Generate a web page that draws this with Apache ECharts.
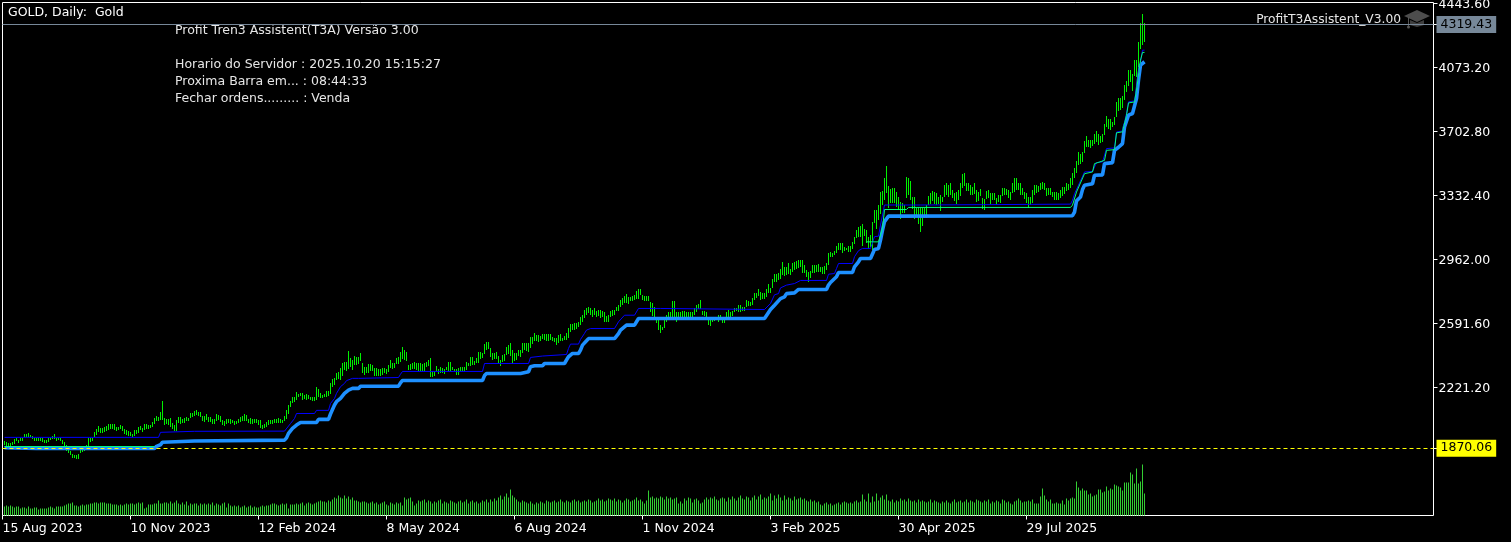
<!DOCTYPE html>
<html><head><meta charset="utf-8">
<style>html,body{margin:0;padding:0;background:#000}#c{width:1511px;height:542px}</style>
<script src="https://cdn.jsdelivr.net/npm/echarts@6/dist/echarts.min.js"></script>
</head><body><div id="c"></div>
<script>
const highs = [
1912,1906,1900,1900,1906,1923,1929,1919,1929,1931,1952,1952,1958,1946,1941,1929,1929,1929,1929,1929,
1917,1917,1929,1929,1941,1952,1929,1929,1929,1917,1906,1888,1860,1854,1836,1831,1831,1836,1860,1865,
1869,1888,1929,1929,1929,1966,1981,1998,1989,1985,1993,1998,2010,2010,2010,2010,1993,1993,2004,1998,
1981,1975,1970,1964,1952,1975,1975,1993,1998,1987,2010,2010,2004,2004,2022,2045,2056,2051,2080,2143,
2045,2039,2039,2045,2016,2004,2033,2051,2051,2039,2045,2051,2045,2074,2074,2085,2091,2080,
2077,2056,2058,2068,2048,2048,2042,2042,2068,2062,2056,2033,2027,2042,2037,2037,2033,2027,2027,2039,
2052,2056,2068,2062,2039,2046,2042,2039,2039,2033,2033,2004,2010,2019,2033,2033,2033,2039,2039,2046,
2042,2033,2056,2091,2120,2145,2164,2168,2197,2183,2187,2191,2178,2181,2178,2164,2164,2168,2226,2212,
2187,2178,2183,2201,2201,2245,2270,2274,2307,2311,2336,2361,2371,2367,2432,2390,2380,2403,2400,2400,
2419,2361,2338,2342,2357,2357,2351,2332,2332,2326,2326,2332,2332,2326,2351,2380,2365,2361,
2393,2399,2428,2457,2437,2428,2351,2355,2364,2368,2360,2360,2364,2355,2360,2368,2380,2389,2318,2318,
2345,2326,2337,2335,2331,2341,2368,2368,2337,2326,2329,2333,2341,2341,2341,2368,2364,2395,2395,2376,
2391,2426,2426,2418,2470,2482,2482,2447,2418,2418,2428,2403,2383,2409,2414,2457,2466,2476,2437,2422,
2418,2437,2437,2480,2480,2480,2476,2515,2515,2534,2524,2524,2519,2530,2530,2530,2530,2528,2511,2505,
2505,2524,2530,2505,2520,2534,2563,2588,2588,2592,2592,2602,2627,2640,2669,2679,2685,
2678,2672,2678,2665,2668,2672,2665,2659,2634,2639,2665,2668,2668,2684,2697,2726,2736,2749,2761,2746,
2742,2749,2755,2780,2788,2788,2755,2749,2749,2749,2717,2707,2684,2611,2614,2581,2572,2611,2639,2659,
2659,2721,2721,2659,2659,2659,2665,2665,2659,2659,2659,2659,2682,2697,2703,2726,2665,2665,2659,2630,
2620,2630,2630,2630,2639,2639,2620,2620,2659,2668,2659,2665,2678,2678,2697,2697,2684,2684,2726,2722,
2717,2736,2765,2765,2788,
2774,2765,2768,2793,2819,2799,2846,2880,2880,2884,2909,2948,2915,2915,2938,2909,2942,2948,2954,2958,
2958,2958,2929,2900,2890,2894,2929,2929,2929,2934,2919,2919,2923,2942,2996,3006,3000,3012,3039,3058,
3054,3054,3031,3025,3039,3039,3064,3093,3131,3151,3154,
3169,3140,3131,3092,3102,3179,3247,3247,3276,3353,3359,3430,3501,3386,3366,3372,3372,3353,3324,3295,
3285,3276,3436,3430,3414,3324,3324,3256,3266,3256,3256,3256,3276,3328,3347,3359,3353,3347,3324,3333,
3324,3391,3401,3391,3401,3362,3343,3353,3362,3401,3453,3459,3401,3401,3391,3378,3401,3362,3353,3366,
3314,3308,3359,3362,3347,3343,3347,3314,3333,3333,3372,3372,3366,3362,3353,3401,3434,3434,3401,3401,
3372,3353,3343,3324,3324,3362,3391,3391,3386,3405,3407,3401,3372,3372,3372,3353,3353,3353,3347,3362,
3378,3382,3401,3397,3430,3459,3488,3530,3584,
3569,3583,3645,3673,3654,3654,3650,3685,3704,3685,3673,3685,3747,3789,3776,3776,3756,3785,3872,3897,
3897,3905,3969,3994,4059,4056,4036,4117,4113,4220,4326,4380,4326];
const lows = [
1888,1883,1879,1883,1888,1894,1912,1900,1912,1912,1933,1933,1937,1933,1923,1912,1912,1912,1912,1906,
1900,1900,1906,1917,1923,1923,1912,1917,1912,1894,1881,1854,1840,1831,1815,1811,1807,1807,1842,1848,
1854,1869,1879,1908,1912,1937,1946,1966,1960,1958,1962,1970,1975,1981,1981,1975,1970,1975,1981,1970,
1952,1946,1941,1941,1935,1941,1952,1958,1975,1966,1975,1981,1981,1987,1993,2010,2027,2027,2033,2033,
2004,2010,2004,1993,1981,1970,1970,2014,2010,2016,2016,2027,2027,2045,2051,2056,2062,2056,
2048,2027,2025,2033,2017,2017,2012,2014,2027,2033,2019,2002,1998,2014,2014,2010,2014,2002,2010,2015,
2023,2027,2027,2027,2014,2014,2015,2014,2014,2004,1988,1981,1986,1990,2002,2010,2010,2014,2015,2017,
2021,2015,2025,2037,2068,2110,2129,2141,2149,2168,2172,2149,2152,2149,2152,2145,2143,2143,2152,2164,
2158,2158,2164,2168,2174,2183,2222,2235,2264,2268,2264,2288,2322,2317,2326,2336,2322,2353,2353,2357,
2371,2303,2289,2307,2303,2318,2318,2284,2284,2284,2284,2293,2303,2299,2311,2332,2330,2332,
2356,2360,2370,2389,2380,2374,2322,2322,2331,2327,2322,2316,2316,2316,2316,2341,2347,2279,2283,2291,
2316,2295,2302,2306,2302,2322,2318,2318,2318,2312,2293,2293,2318,2318,2318,2322,2347,2345,2351,2351,
2360,2364,2383,2389,2414,2437,2443,2395,2380,2383,2389,2355,2351,2370,2374,2409,2414,2403,2364,2376,
2380,2403,2399,2422,2437,2434,2424,2453,2476,2486,2490,2486,2490,2499,2495,2492,2492,2492,2486,2480,
2466,2480,2492,2486,2495,2495,2505,2544,2553,2549,2557,2573,2582,2602,2621,2640,2650,
2636,2630,2639,2630,2634,2626,2630,2601,2601,2601,2630,2634,2639,2659,2663,2684,2697,2707,2707,2707,
2717,2722,2726,2736,2730,2755,2726,2722,2722,2722,2659,2630,2611,2591,2556,2537,2553,2562,2601,2626,
2626,2620,2620,2601,2620,2626,2626,2626,2626,2626,2626,2626,2639,2659,2672,2672,2639,2634,2630,2582,
2582,2601,2607,2611,2601,2611,2595,2595,2620,2626,2630,2634,2653,2659,2659,2659,2659,2659,2688,2692,
2692,2697,2726,2736,2746,
2726,2730,2736,2749,2765,2768,2793,2832,2832,2842,2851,2871,2865,2871,2876,2876,2890,2903,2909,2909,
2915,2880,2880,2861,2832,2851,2880,2884,2890,2890,2890,2876,2876,2900,2929,2977,2977,2986,2996,3015,
3015,2996,3006,3012,3006,3006,3025,3054,3083,3093,3093,
3044,3102,3054,3025,3034,3015,3169,3140,3189,3227,3276,3304,3343,3256,3285,3285,3285,3266,3256,3198,
3227,3227,3314,3333,3304,3256,3198,3208,3169,3115,3150,3198,3198,3276,3285,3304,3285,3276,3285,3243,
3295,3324,3333,3324,3333,3314,3295,3285,3304,3324,3372,3382,3353,3353,3333,3333,3339,3295,3301,3324,
3250,3243,3314,3314,3285,3304,3308,3276,3295,3285,3324,3333,3333,3314,3304,3343,3353,3362,3362,3333,
3333,3314,3285,3262,3276,3285,3333,3343,3353,3362,3366,3362,3324,3333,3333,3324,3304,3308,3308,3314,
3324,3343,3353,3362,3372,3391,3430,3459,3507,
3511,3525,3573,3612,3612,3608,3616,3627,3641,3621,3631,3641,3685,3724,3718,3712,3727,3737,3785,3824,
3828,3834,3882,3930,3969,3988,3940,4027,4017,4075,4175,4200,4214];
const volumes = [
9,10,9,10,9,8,9,9,7,8,8,7,9,7,7,8,8,6,7,7,
7,7,8,9,8,7,9,9,9,9,10,11,12,12,13,10,10,9,10,11,
10,11,11,12,12,13,13,12,13,13,13,12,12,12,11,11,11,10,11,10,
11,12,11,12,12,11,12,13,12,13,7,8,11,11,11,12,12,15,12,12,
13,13,12,14,12,13,15,12,11,13,11,14,10,12,11,12,12,10,12,11,
12,11,12,11,13,10,12,11,10,12,13,8,12,10,9,10,9,10,8,9,
10,8,9,10,8,9,8,8,9,10,9,10,10,11,12,12,11,10,11,12,
11,12,7,11,11,11,12,11,12,13,10,12,13,12,11,12,13,14,15,14,14,13,15,14,16,18,17,20,18,17,
20,17,19,16,18,15,15,14,13,14,14,13,12,13,14,12,13,11,12,13,14,11,10,13,12,11,13,12,13,10,
18,16,17,18,14,10,12,15,14,15,16,13,15,14,12,14,13,15,16,12,14,13,12,15,14,13,12,14,15,13,
14,16,12,14,15,13,14,12,13,15,14,16,13,16,14,17,15,18,20,16,19,22,18,26,20,
18,16,14,13,15,14,13,12,14,12,11,13,12,14,13,12,15,14,13,14,15,13,14,16,14,13,15,14,13,15,
16,14,15,13,14,15,14,16,15,13,14,15,17,15,16,14,
15,17,16,15,17,14,16,15,13,15,17,16,14,15,16,18,15,16,14,12,15,
25,18,19,17,18,17,19,18,16,19,17,18,16,17,18,12,14,12,17,15,18,17,13,16,
17,15,12,13,16,18,16,18,17,19,16,15,17,18,17,14,18,16,19,17,15,18,20,17,16,19,18,15,18,20,16,19,21,16,18,17,19,
22,15,20,17,21,18,15,20,16,18,17,15,19,16,17,18,16,17,15,14,16,
14,15,13,14,11,10,12,13,11,12,10,11,12,13,11,13,14,13,12,13,12,14,15,13,14,
21,16,14,22,13,19,14,22,15,18,20,16,21,15,14,16,13,15,14,17,15,16,14,17,15,14,15,13,16,14,
15,14,13,14,16,13,15,14,13,12,14,13,15,13,12,14,16,13,14,15,13,14,16,13,15,14,13,16,15,14,13,15,14,16,12,14,13,15,14,
12,16,15,13,14,12,11,14,15,17,15,13,14,14,15,14,16,12,12,12,19,27,20,16,14,16,12,12,13,12,12,15,11,17,15,17,18,17,34,28,
25,27,25,25,21,22,19,20,21,26,26,23,24,29,25,27,26,31,30,29,28,25,33,33,33,43,41,32,47,32,34,51,22];
const t3Main = [
[0,1873],[16,1869],[75,1869],[76,1881],[78,1890],[79,1905],[80,1910],[95,1912],[96,1917],[140,1917],[141,1930],[142,1956],[144,1985],[146,2004],[148,2019],
[156,2019],[157,2037],[162,2037],[163,2068],[165,2120],[166,2139],[168,2158],[170,2187],[172,2206],[174,2216],[177,2216],[178,2228],[197,2229],[198,2248],[199,2262],
[239,2262],[240,2290],[241,2302],[258,2302],[259,2310],[262,2312],[263,2341],[265,2347],[269,2347],[270,2360],[280,2360],[281,2380],[282,2399],[284,2418],[287,2418],
[288,2437],[289,2466],[291,2491],[292,2504],[305,2504],[307,2533],[308,2553],[311,2582],[315,2582],[316,2601],[317,2620],[380,2620],[381,2630],[383,2672],[385,2697],
[386,2707],[388,2735],[390,2745],[391,2764],[395,2768],[397,2788],[411,2788],[412,2813],[413,2828],[416,2861],[417,2886],[424,2886],[425,2919],[427,2948],[428,2967],
[433,2967],[435,3019],[437,3025],[438,3073],[439,3131],[440,3180],[442,3212],[534,3214],[535,3235],[536,3300],[538,3322],[539,3365],[540,3390],[544,3399],[545,3448],
[549,3450],[550,3515],[554,3521],[555,3592],[557,3610],[559,3631],[560,3727],[562,3795],[564,3805],[566,3892],[567,3998],[568,4085],[570,4104]];
const t3Upper = [
[0,1933],[77,1933],[78,1962],[95,1968],[96,1969],[140,1969],[141,1975],[143,2013],[145,2042],[146,2071],[155,2071],[156,2089],[162,2089],[163,2129],[165,2158],
[166,2187],[168,2226],[170,2245],[171,2261],[174,2274],[177,2274],[178,2280],[197,2279],[198,2298],[199,2314],[239,2314],[240,2360],[262,2360],[263,2395],[264,2399],
[269,2403],[270,2412],[281,2412],[282,2447],[283,2472],[287,2472],[288,2499],[290,2534],[291,2553],[293,2562],[305,2562],[307,2601],[310,2639],[315,2639],[317,2678],
[328,2678],[329,2672],[380,2672],[381,2678],[383,2707],[385,2757],[387,2764],[388,2797],[391,2813],[395,2822],[398,2840],[411,2840],[412,2876],[415,2880],[416,2909],
[417,2938],[424,2938],[425,2977],[427,3012],[429,3025],[433,3025],[435,3093],[437,3096],[438,3160],[440,3276],[458,3276],[459,3281],[533,3281],[534,3304],[535,3341],
[537,3391],[540,3467],[544,3470],[546,3521],[549,3525],[551,3602],[555,3606],[556,3698],[559,3704],[561,3805],[562,3872],[565,3878],[566,3949],[567,4036],[568,4104],[569,4171],[570,4171]];
const t3Lower = [
[0,1880],[75,1880],[76,null],[431,3063],[437,3063],[439,3140],[440,3250],[451,3250],[452,3262],[533,3262],[534,3275],[536,3351],[540,3457],[544,3467],[545,3515],
[550,3534],[551,3592],[555,3596],[556,3693],[559,3699],[561,3795],[562,3866],[565,3872],[566,3940],[567,4027],[568,4113],[569,4158],[570,4158]];
const priceTicks = [4443.60,4073.20,3702.80,3332.40,2962.00,2591.60,2221.20];
const dateLabels = ['15 Aug 2023','10 Nov 2023','12 Feb 2024','8 May 2024','6 Aug 2024','1 Nov 2024','3 Feb 2025','30 Apr 2025','29 Jul 2025'];
const dateTickBars = [-1,63,127,191,255,319,383,447,511];
const askPrice = 4319.43;
const stopPrice = 1870.06;
const infoLines = ['Profit Tren3 Assistent(T3A) Versão 3.00','','Horario do Servidor : 2025.10.20 15:15:27','Proxima Barra em... : 08:44:33','Fechar ordens......... : Venda'];

const FONT = '"DejaVu Sans"';
const FS = 12.5;
const bars = highs.map((h,i)=>[i,lows[i],h]);
const vol = volumes.map((v,i)=>[i,v]);
const chart = echarts.init(document.getElementById('c'),null,{renderer:'canvas'});
const txt = (x,y,t,o)=>({type:'text',silent:true,x,y,style:Object.assign({text:t,fill:'#fff',font:FS+'px '+FONT,textVerticalAlign:'middle'},o||{})});
chart.setOption({
  animation:false,backgroundColor:'#000',
  grid:[
    {left:2.5,top:2.5,right:77.5,bottom:26.5,show:true,borderColor:'#fff',borderWidth:1,backgroundColor:'transparent',outerBoundsMode:'none'},
    {left:2.5,right:77.5,top:460.5,bottom:26.5,show:false,outerBoundsMode:'none'}
  ],
  xAxis:[
    {type:'value',gridIndex:0,min:-1,max:714.5,splitLine:{show:false},axisLine:{show:false,onZero:false},
     axisTick:{show:true,length:4,customValues:dateTickBars,lineStyle:{color:'#fff'}},
     axisLabel:{color:'#fff',fontFamily:'DejaVu Sans',fontSize:FS,margin:7,align:'left',showMinLabel:true,showMaxLabel:true,customValues:dateTickBars,
       formatter:v=>dateLabels[dateTickBars.indexOf(v)]||''}},
    {type:'value',gridIndex:1,min:-1,max:714.5,show:false}
  ],
  yAxis:[
    {type:'value',gridIndex:0,position:'right',min:1481.35,max:4446.5,splitLine:{show:false},axisLine:{show:false,onZero:false},
     axisTick:{show:true,length:4,customValues:priceTicks.concat([askPrice,stopPrice]),lineStyle:{color:'#fff'}},
     axisLabel:{color:'#fff',fontFamily:'DejaVu Sans',fontSize:FS,margin:5,align:'left',verticalAlign:'top',lineHeight:3,showMinLabel:true,showMaxLabel:true,customValues:priceTicks,formatter:v=>v.toFixed(2)}},
    {type:'value',gridIndex:1,min:0,max:55,show:false}
  ],
  series:[
    {name:'Volume',type:'bar',xAxisIndex:1,yAxisIndex:1,data:vol,barWidth:1,itemStyle:{color:'#32CD32'},silent:true,large:false},
    {name:'GOLD',type:'custom',xAxisIndex:0,yAxisIndex:0,data:bars,silent:true,encode:{x:0,y:[1,2]},clip:true,z:3,
     renderItem:(p,api)=>{
       const a=api.coord([api.value(0),api.value(2)]),b=api.coord([api.value(0),api.value(1)]);
       return {type:'rect',shape:{x:Math.floor(a[0]),y:Math.round(a[1]),width:1,height:Math.max(1,Math.round(b[1]-a[1]))},style:{fill:'#00F000'}};
     }},
    {name:'T3 main',type:'line',data:t3Main,showSymbol:false,silent:true,z:4,lineStyle:{color:'#1E90FF',width:3.6},connectNulls:false},
    {name:'T3 upper',type:'line',data:t3Upper,showSymbol:false,silent:true,z:5,lineStyle:{color:'#0000FF',width:1}},
    {name:'T3 lower',type:'line',data:t3Lower,showSymbol:false,silent:true,z:6,lineStyle:{color:'#00FF7F',width:1},connectNulls:false},
    {name:'Levels',type:'line',data:[],silent:true,z:7,
     markLine:{silent:true,symbol:'none',animation:false,precision:2,data:[
       {yAxis:askPrice,lineStyle:{color:'#778899',width:1,type:'solid'},
        label:{position:'end',distance:3,formatter:askPrice.toFixed(2),color:'#000',backgroundColor:'#778899',padding:[3,4,1,4],fontFamily:'DejaVu Sans',fontSize:FS}},
       {yAxis:stopPrice,lineStyle:{color:'#FFFF00',width:1,type:[4,3]},
        label:{position:'end',distance:3,formatter:stopPrice.toFixed(2),color:'#000',backgroundColor:'#FFFF00',padding:[3,4,1,4],fontFamily:'DejaVu Sans',fontSize:FS}}
     ]}}
  ],
  graphic:[
    txt(8,13,'GOLD, Daily:  Gold'),
    txt(175,31,infoLines[0],{fill:'#e6e6e6'}),
    txt(175,64.5,infoLines[2],{fill:'#e6e6e6'}),
    txt(175,81.5,infoLines[3],{fill:'#e6e6e6'}),
    txt(175,99,infoLines[4],{fill:'#e6e6e6'}),
    txt(1401,20,'ProfitT3Assistent_V3.00',{textAlign:'right',fill:'#e6e6e6',font:'12.25px '+FONT}),
    {type:'polygon',silent:true,shape:{points:[[1417,10],[1430,16],[1417,22],[1404,16]]},style:{fill:'#4d4d4d'}},
    {type:'polygon',silent:true,shape:{points:[[1410,20],[1417,23],[1424,20],[1424,25],[1417,27],[1410,25]]},style:{fill:'#3e3e3e'}},
    {type:'rect',silent:true,shape:{x:1408,y:17,width:1,height:9},style:{fill:'#555'}},
    {type:'circle',silent:true,shape:{cx:1408.5,cy:27,r:1.5},style:{fill:'#555'}}
  ]
});
</script></body></html>
